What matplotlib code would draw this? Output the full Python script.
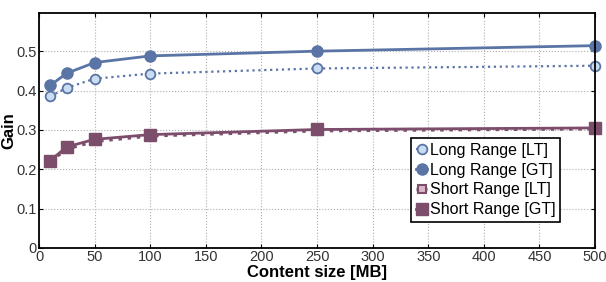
import numpy as np
import matplotlib.pyplot as plt

plt.rcParams['font.family'] = ['Liberation Sans', 'DejaVu Sans']

# data
size_mb = [10, 25, 50, 100, 250, 500]
long_lt = [0.385, 0.407, 0.430, 0.443, 0.456, 0.463]
long_gt = [0.413, 0.444, 0.471, 0.488, 0.500, 0.514]
short_lt = [0.220, 0.252, 0.271, 0.285, 0.298, 0.303]
short_gt = [0.222, 0.257, 0.276, 0.288, 0.301, 0.305]

blue = '#5b74a6'
light_blue = '#c9dcf2'
purple = '#7d4d6c'
light_purple = '#d9b8c8'

fig = plt.figure(figsize=(6.06, 2.82), dpi=100)
ax = fig.add_axes([0.0644, 0.1206, 0.9175, 0.8334])

ax.plot(size_mb, long_lt, ':', color=blue, lw=1.6, marker='o', ms=7,
        mfc=light_blue, mec=blue, mew=1.3, label='Long Range [LT]',
        clip_on=False, zorder=3)
ax.plot(size_mb, long_gt, '-', color=blue, lw=2, marker='o', ms=8,
        mfc=blue, mec=blue, label='Long Range [GT]', clip_on=False, zorder=3)
ax.plot(size_mb, short_lt, ':', color=purple, lw=2.5, marker='s', ms=6,
        mfc=light_purple, mec=purple, mew=1.5, label='Short Range [LT]',
        clip_on=False, zorder=3)
ax.plot(size_mb, short_gt, '-', color=purple, lw=2, marker='s', ms=8,
        mfc=purple, mec=purple, label='Short Range [GT]', clip_on=False,
        zorder=3)

ax.set_xlim(0, 500)
ax.set_ylim(0, 0.597)
ax.set_xticks(np.arange(0, 501, 50))
ax.set_yticks([0, 0.1, 0.2, 0.3, 0.4, 0.5])
ax.set_yticklabels(['0', '0.1', '0.2', '0.3', '0.4', '0.5'])
ax.tick_params(direction='in', top=True, right=True, labelsize=10.5,
               labelcolor='#333333', length=3, width=0.8, pad=1.5)
ax.grid(True, linestyle=':', color='#b0b0b0', lw=0.8)
for s in ax.spines.values():
    s.set_linewidth(1.3)
    s.set_zorder(4)

ax.set_xlabel('Content size [MB]', fontsize=12, fontweight='bold', labelpad=0.5)
ax.set_ylabel('Gain', fontsize=12, fontweight='bold', labelpad=0)

leg = ax.legend(loc='lower right', bbox_to_anchor=(0.937, 0.111),
                fontsize=11.5, handlelength=0.7, handletextpad=0.15,
                borderpad=0.3, labelspacing=0.3, fancybox=False,
                framealpha=1, edgecolor='black', borderaxespad=0)
leg.get_frame().set_linewidth(1.2)
leg.set_zorder(5)

fig.savefig('out.png', dpi=100)
